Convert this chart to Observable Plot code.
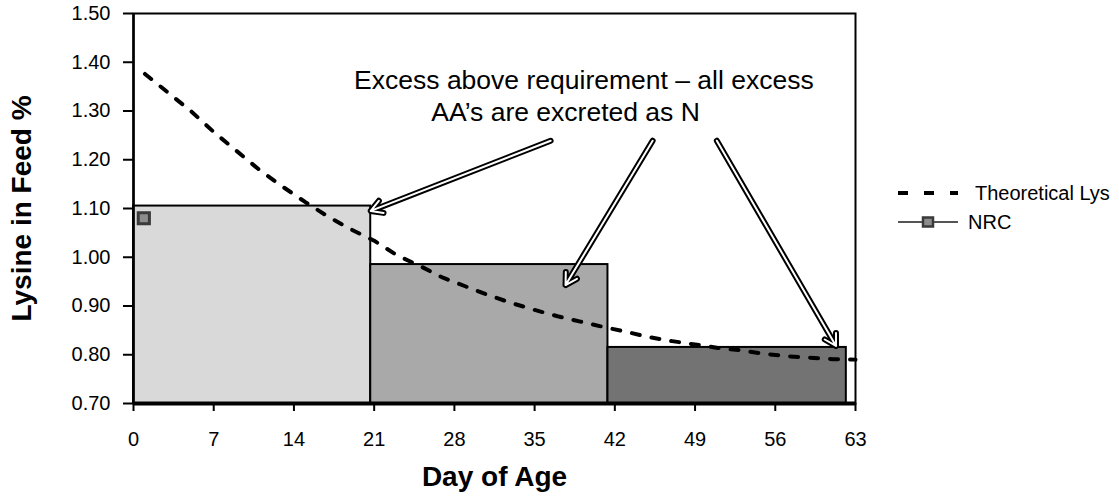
<!DOCTYPE html>
<html><head><meta charset="utf-8">
<script src="https://cdn.jsdelivr.net/npm/d3@7"></script>
<script src="https://cdn.jsdelivr.net/npm/@observablehq/plot@0.6"></script>
<style>
body{margin:0;background:#fff;font-family:"Liberation Sans",Arial,Helvetica,sans-serif;}
#wrap{position:relative;width:1119px;height:496px;overflow:hidden;}
#legend{position:absolute;left:0;top:0;pointer-events:none;}
</style></head><body><div id="wrap"></div>
<script>
// ---- data ----
const barStart = [0, 20.7, 41.4];
const barEnd = [20.7, 41.4, 62.2];
const barValues = [1.105, 0.985, 0.815];
const barColors = ["#d9d9d9", "#a9a9a9", "#737373"];

const lysDays = [1, 3, 5, 7, 9, 11, 13, 15, 17, 19, 21, 23, 25, 27, 29, 31, 33, 35, 37, 39, 41, 43, 45, 47, 49, 51, 53, 55, 57, 59, 61, 63];
const lysValues = [1.376, 1.338, 1.300, 1.257, 1.218, 1.179, 1.145, 1.113, 1.083, 1.057, 1.034, 1.004, 0.982, 0.958, 0.940, 0.922, 0.906, 0.892, 0.879, 0.868, 0.857, 0.847, 0.836, 0.828, 0.821, 0.814, 0.809, 0.802, 0.797, 0.794, 0.791, 0.790];

const nrcDays = [0.9];
const nrcValues = [1.08];

const xTicks = [0, 7, 14, 21, 28, 35, 42, 49, 56, 63];
const yTicks = [0.70, 0.80, 0.90, 1.00, 1.10, 1.20, 1.30, 1.40, 1.50];

const noteLines = ["Excess above requirement \u2013 all excess", "AA\u2019s are excreted as N"];
const noteDays = [39.3, 37.7];
const noteValues = [1.362, 1.297];

const arrowFromDays = [36.4, 45.3, 50.9];
const arrowFromValues = [1.239, 1.239, 1.239];
const arrowToDays = [20.7, 37.7, 61.3];
const arrowToValues = [1.095, 0.943, 0.818];

const seriesNames = ["Theoretical Lys", "NRC"];

// ---- tables ----
const bars = barValues.map((v, i) => ({x1: barStart[i], x2: barEnd[i], v, c: barColors[i]}));
const lys = lysDays.map((d, i) => ({d, v: lysValues[i]}));
const nrc = nrcDays.map((d, i) => ({d, v: nrcValues[i]}));
const notes = noteLines.map((t, i) => ({t, d: noteDays[i], v: noteValues[i]}));
const arrows = arrowFromDays.map((d, i) => ({x1: d, y1: arrowFromValues[i], x2: arrowToDays[i], y2: arrowToValues[i]}));

const HEAD = 13;
const chart = Plot.plot({
  width: 1119,
  height: 496,
  marginLeft: 133,
  marginRight: 264,
  marginTop: 13,
  marginBottom: 93,
  style: {fontFamily: '"Liberation Sans", Arial, Helvetica, sans-serif', fontSize: "20px", background: "#fff", color: "#000"},
  x: {domain: [0, 63]},
  y: {domain: [0.70, 1.50]},
  marks: [
    Plot.rect(bars, {x1: "x1", x2: "x2", y1: 0.70, y2: "v", fill: "c", stroke: "#000", strokeWidth: 2}),
    Plot.frame({stroke: "#000", strokeWidth: 2}),
    Plot.ruleX([0], {stroke: "#000", strokeWidth: 2.5}),
    Plot.ruleY([0.70], {stroke: "#000", strokeWidth: 4}),
    Plot.axisY(yTicks, {tickSize: 10, tickPadding: 13, tickFormat: d => d.toFixed(2), fontSize: 20, label: null, strokeWidth: 2}),
    Plot.axisX(xTicks, {tickSize: 8, tickPadding: 20, tickFormat: d => String(d), fontSize: 20, label: null, strokeWidth: 2}),
    Plot.line(lys, {x: "d", y: "v", stroke: "#000", strokeWidth: 4, strokeDasharray: "8,12"}),
    Plot.dot(nrc, {x: "d", y: "v", symbol: "square", r: 6.3, fill: "#8c8c8c", stroke: "#3a3a3a", strokeWidth: 3}),
    Plot.arrow(arrows, {x1: "x1", y1: "y1", x2: "x2", y2: "y2", stroke: "#000", strokeWidth: 6, headLength: HEAD * 1.5 / 6, headAngle: 60, strokeLinejoin: "miter"}),
    Plot.arrow(arrows, {x1: "x1", y1: "y1", x2: "x2", y2: "y2", stroke: "#fff", strokeWidth: 2, headLength: HEAD * 1.5 / 2, headAngle: 60, strokeLinejoin: "miter"}),
    Plot.text(notes, {x: "d", y: "v", text: "t", fontSize: 26.5, fill: "#000", textAnchor: "middle"}),
    Plot.text(["Day of Age"], {frameAnchor: "bottom", dy: 82, fontSize: 28, fontWeight: "bold", fill: "#000", textAnchor: "middle"}),
    Plot.text(["Lysine in Feed %"], {frameAnchor: "left", dx: -111, rotate: -90, fontSize: 28, fontWeight: "bold", fill: "#000", textAnchor: "middle"})
  ]
});
document.getElementById("wrap").appendChild(chart);

// ---- legend (right side) ----
const lg = d3.select("#wrap").append("svg").attr("id", "legend").attr("width", 1119).attr("height", 496);
lg.append("line").attr("x1", 898).attr("x2", 958).attr("y1", 193).attr("y2", 193)
  .attr("stroke", "#000").attr("stroke-width", 4).attr("stroke-dasharray", "10,16");
lg.append("text").attr("x", 975).attr("y", 193).attr("dy", "0.35em").attr("font-size", 20).text(seriesNames[0]);
lg.append("line").attr("x1", 898).attr("x2", 958).attr("y1", 222).attr("y2", 222)
  .attr("stroke", "#555").attr("stroke-width", 2);
lg.append("rect").attr("x", 923).attr("y", 217.5).attr("width", 10).attr("height", 9)
  .attr("fill", "#8c8c8c").attr("stroke", "#3a3a3a").attr("stroke-width", 2.5);
lg.append("text").attr("x", 968).attr("y", 222).attr("dy", "0.35em").attr("font-size", 20).text(seriesNames[1]);
</script>
</body></html>
